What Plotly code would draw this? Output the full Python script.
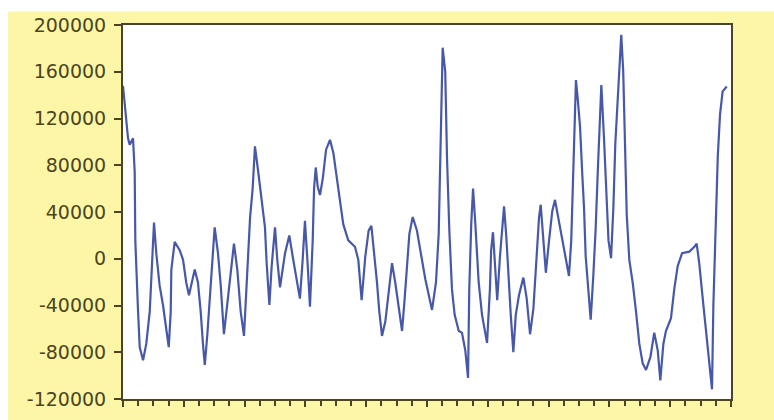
import plotly.graph_objects as go

# Observation position along the time axis (one unit per minor tick) and series value
period = [
    0.00, 0.10, 0.22, 0.33, 0.44, 0.66, 0.77, 0.81, 0.99, 1.10,
    1.32, 1.53, 1.76, 1.86, 1.97, 2.04, 2.19, 2.41, 2.63, 2.85,
    3.01, 3.14, 3.18, 3.40, 3.73, 3.95, 4.16, 4.34, 4.54, 4.72,
    4.93, 5.11, 5.26, 5.38, 5.55, 5.70, 5.86, 6.03, 6.25, 6.43,
    6.64, 6.86, 7.09, 7.30, 7.52, 7.74, 7.96, 8.14, 8.24, 8.36,
    8.53, 8.68, 8.90, 9.13, 9.34, 9.45, 9.63, 9.78, 10.00, 10.15,
    10.33, 10.66, 10.94, 11.20, 11.47, 11.64, 11.82, 11.97, 12.13, 12.30,
    12.48, 12.57, 12.68, 12.81, 12.96, 13.14, 13.36, 13.62, 13.84, 14.10,
    14.28, 14.49, 14.82, 15.26, 15.48, 15.70, 15.94, 16.16, 16.34, 16.56,
    16.71, 16.86, 17.04, 17.26, 17.48, 17.70, 17.91, 18.18, 18.36, 18.53,
    18.68, 18.84, 19.06, 19.34, 19.63, 19.89, 20.33, 20.59, 20.77, 20.88,
    20.94, 21.03, 21.20, 21.32, 21.47, 21.64, 21.82, 22.09, 22.30, 22.52,
    22.70, 22.78, 22.91, 23.03, 23.18, 23.40, 23.62, 23.95, 24.14, 24.22,
    24.34, 24.47, 24.62, 24.80, 24.95, 25.07, 25.22, 25.33, 25.51, 25.68,
    25.84, 26.05, 26.34, 26.56, 26.78, 27.00, 27.22, 27.37, 27.48, 27.66,
    27.82, 28.03, 28.24, 28.42, 28.68, 29.01, 29.34, 29.49, 29.63, 29.72,
    29.80, 29.93, 30.07, 30.22, 30.33, 30.44, 30.59, 30.77, 30.94, 31.09,
    31.25, 31.36, 31.47, 31.64, 31.80, 31.94, 32.11, 32.26, 32.39, 32.55,
    32.70, 32.78, 32.91, 33.03, 33.14, 33.31, 33.53, 33.75, 33.97, 34.19,
    34.41, 34.70, 34.95, 35.18, 35.35, 35.55, 35.72, 36.05, 36.27, 36.49,
    36.78, 37.26, 37.59, 37.74, 37.91, 38.14, 38.36, 38.57, 38.75, 38.84,
    38.97, 39.13, 39.28, 39.45, 39.72,
]

values = [
    148000, 135000, 118500, 103000, 97500, 103000, 74000, 15700, -45000, -75700,
    -86800, -72900, -45000, -17500, 13000, 31000, 4700, -23000, -39600, -59000,
    -75700, -45000, -9200, 14400, 7400, -900, -20300, -31300, -20300, -9200,
    -20300, -45000, -72900, -90900, -64600, -34100, -900, 26800, 4700, -23000,
    -64600, -39600, -12000, 13000, -9200, -45000, -66000, -23000, 4700, 35200,
    60100, 96100, 74000, 46200, 26800, -3700, -39600, -6400, 26800, -900,
    -24400, 4700, 19900, -900, -23000, -34100, -900, 32400, -900, -41000,
    15700, 60100, 78100, 61500, 54500, 68400, 93300, 101700, 90500, 65600,
    49000, 29600, 15700, 10200, -900, -35500, 1900, 24000, 28200, 1900,
    -20300, -45000, -66000, -53500, -25800, -3700, -20300, -48000, -61800, -34100,
    -3700, 21300, 35700, 24000, 1900, -17500, -43800, -20300, 21300, 85000,
    146000, 180600, 159900, 85000, 24000, -25800, -48000, -61800, -63200, -78500,
    -102000, -25800, 29600, 60100, 29600, -20300, -48000, -72000, -25800, 7400,
    22700, -3700, -35500, 1900, 29600, 44800, 18500, -9200, -48000, -79900,
    -48000, -31300, -16100, -34100, -64600, -42500, 7400, 35200, 46200, 15700,
    -12000, 15700, 40700, 50400, 32400, 7400, -14700, 15700, 71200, 121000,
    152900, 134900, 112700, 71200, 43500, 1900, -25800, -52100, -14700, 24000,
    79500, 123800, 148700, 104400, 57300, 15700, 500, 43500, 98800, 139100,
    176500, 191700, 159900, 98800, 37900, -900, -20300, -45000, -72900, -89500,
    -95100, -84000, -63200, -78500, -104000, -72900, -61800, -50800, -25800, -6400,
    4700, 6100, 10200, 13000, -3700, -34100, -61800, -84000, -111700, -39600,
    10200, 87800, 123800, 143200, 147400,
]

y_tick_values = [-120000, -80000, -40000, 0, 40000, 80000, 120000, 160000, 200000]
y_tick_labels = ["-120000", "-80000", "-40000", "0", "40000", "80000",
                 "120000", "160000", "200000"]

YELLOW = "#fdf6a6"
FRAME = "#4a4428"
LABEL = "#4a4520"
LINE = "#4858a8"

fig = go.Figure(
    go.Scatter(
        x=period,
        y=values,
        mode="lines",
        line=dict(color=LINE, width=2.2),
        hoverinfo="x+y",
    )
)

fig.update_layout(
    width=774,
    height=420,
    autosize=False,
    margin=dict(l=123, r=43, t=25, b=10),
    paper_bgcolor=YELLOW,
    plot_bgcolor="white",
    showlegend=False,
    font=dict(family="DejaVu Sans", size=19, color=LABEL),
    # white strips along the top and left edge of the page
    shapes=[
        dict(type="rect", xref="paper", yref="paper",
             x0=-0.3, x1=1.2, y0=1.036, y1=1.2,
             fillcolor="white", line=dict(width=0), layer="below"),
        dict(type="rect", xref="paper", yref="paper",
             x0=-0.3, x1=-0.189, y0=-0.2, y1=1.2,
             fillcolor="white", line=dict(width=0), layer="below"),
    ],
)

fig.update_xaxes(
    range=[0, 40],
    showgrid=False,
    zeroline=False,
    showticklabels=False,
    ticks="outside",
    tickmode="linear",
    tick0=0,
    dtick=4,
    ticklen=6,
    tickwidth=1.5,
    tickcolor=FRAME,
    minor=dict(ticks="outside", dtick=1, ticklen=5, tickwidth=1.5, tickcolor=FRAME),
    showline=True,
    linecolor=FRAME,
    linewidth=2,
    mirror=True,
)

fig.update_yaxes(
    range=[-120000, 200000],
    showgrid=False,
    zeroline=False,
    tickmode="array",
    tickvals=y_tick_values,
    ticktext=y_tick_labels,
    ticks="outside",
    ticklen=7,
    tickwidth=1.5,
    tickcolor=FRAME,
    ticklabelstandoff=4,
    showline=True,
    linecolor=FRAME,
    linewidth=2,
    mirror=True,
)

fig.write_html("out.html")
